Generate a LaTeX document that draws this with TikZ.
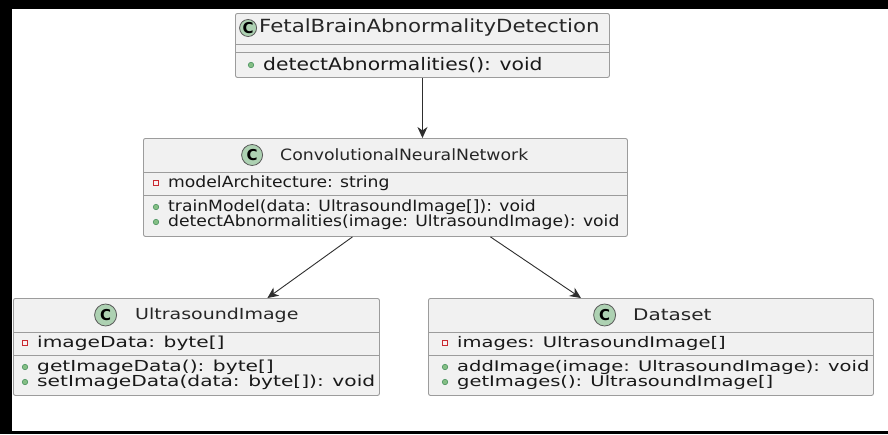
\documentclass[tikz,border=0pt]{standalone}
\usepackage{fontspec}
\setmainfont{DejaVu Sans}
\usetikzlibrary{positioning, arrows.meta}
\definecolor{UmlFill}{HTML}{F1F1F1}
\definecolor{UmlBorder}{HTML}{9C9C9C}
\definecolor{UmlCircle}{HTML}{ADD1B2}
\definecolor{UmlLine}{HTML}{2E2E2E}
\definecolor{PrivRed}{HTML}{C82930}
\definecolor{PrivFill}{HTML}{FBEFF1}
\definecolor{PubGreen}{HTML}{84BE84}
\definecolor{PubDark}{HTML}{3C8A55}

\tikzset{
  classbox/.style={draw=UmlBorder, fill=UmlFill, line width=0.9pt, rounded corners=2pt, inner sep=0pt},
  divider/.style={draw=UmlBorder, line width=0.9pt},
  classicon/.style={circle, draw=UmlLine!80, fill=UmlCircle, line width=0.8pt, inner sep=0pt,
    minimum size=#1, font=\bfseries\fontsize{15}{15}\selectfont},
  classname/.style={anchor=west, inner sep=0pt, text=black!85, font=\fontsize{#1}{#1}\selectfont},
  squash/.style={yscale=#1, transform shape},
  member/.style={anchor=west, inner sep=0pt, text=black!90, font=\fontsize{#1}{#1}\selectfont},
  pubdot/.style={circle, draw=PubDark, fill=PubGreen, line width=0.5pt, inner sep=0pt, minimum size=5.5pt},
  privsq/.style={rectangle, draw=PrivRed, fill=PrivFill, line width=0.6pt, inner sep=0pt, minimum size=5.5pt},
  pubmember/.style={member=#1, label={[pubdot, xshift=-9pt]left:{}}},
  privmember/.style={member=#1, label={[privsq, xshift=-9pt]left:{}}},
  umlarrow/.style={draw=UmlLine, line width=0.9pt, -{Stealth[length=11pt, width=10pt, inset=3.5pt]}}
}

\begin{document}
\begin{tikzpicture}[x=1pt, y=-1pt]
% page and frame
\useasboundingbox (0,0) rectangle (888,434);
\fill[white] (0,0) rectangle (888,434);
\fill[black] (0,0) rectangle (888,9);
\fill[black] (0,0) rectangle (12,434);
\fill[black] (0,431) rectangle (888,434);

% FetalBrainAbnormalityDetection
\node[classbox, minimum width=374pt, minimum height=64pt, anchor=north west] (fetal) at (235,13) {};
\draw[divider] (fetal.west |- 0,44) -- (fetal.east |- 0,44);
\draw[divider] (fetal.west |- 0,52) -- (fetal.east |- 0,52);
\node[classname=21.3, squash=0.85] (fetalname) at (259,28) {FetalBrainAbnormalityDetection};
\node[classicon=17pt, left=2pt of fetalname] (fetalicon) {C};
\node[pubmember=20.3, squash=0.85] (fetalm1) at (263,65) {detectAbnormalities(): void};

% ConvolutionalNeuralNetwork
\node[classbox, minimum width=484pt, minimum height=98pt, anchor=north west] (cnn) at (143,138) {};
\draw[divider] (cnn.west |- 0,172) -- (cnn.east |- 0,172);
\draw[divider] (cnn.west |- 0,195) -- (cnn.east |- 0,195);
\node[classname=17.3, squash=0.9] (cnnname) at (280,155) {ConvolutionalNeuralNetwork};
\node[classicon=21pt, left=17pt of cnnname] (cnnicon) {C};
\node[privmember=17.2, squash=0.9] (cnna1) at (168,183) {modelArchitecture: string};
\node[pubmember=17.2, squash=0.9] (cnnm1) at (168,207) {trainModel(data: UltrasoundImage[]): void};
\node[pubmember=17.2, squash=0.9] (cnnm2) at (168,222) {detectAbnormalities(image: UltrasoundImage): void};

% UltrasoundImage
\node[classbox, minimum width=366pt, minimum height=97pt, anchor=north west] (ultra) at (13,298) {};
\draw[divider] (ultra.west |- 0,332) -- (ultra.east |- 0,332);
\draw[divider] (ultra.west |- 0,355) -- (ultra.east |- 0,355);
\node[classname=19, squash=0.8] (ultraname) at (135,315) {UltrasoundImage};
\node[classicon=22pt, left=18pt of ultraname] (ultraicon) {C};
\node[privmember=20.2, squash=0.75] (ultraa1) at (37,343) {imageData: byte[]};
\node[pubmember=20.2, squash=0.75] (ultram1) at (37,367) {getImageData(): byte[]};
\node[pubmember=20.2, squash=0.75] (ultram2) at (37,382) {setImageData(data: byte[]): void};

% Dataset
\node[classbox, minimum width=445pt, minimum height=97pt, anchor=north west] (data) at (428,298) {};
\draw[divider] (data.west |- 0,332) -- (data.east |- 0,332);
\draw[divider] (data.west |- 0,355) -- (data.east |- 0,355);
\node[classname=20, squash=0.8] (dataname) at (633,315) {Dataset};
\node[classicon=22pt, left=17pt of dataname] (dataicon) {C};
\node[privmember=19.5, squash=0.75] (dataa1) at (457,343) {images: UltrasoundImage[]};
\node[pubmember=19.5, squash=0.75] (datam1) at (457,367) {addImage(image: UltrasoundImage): void};
\node[pubmember=19.5, squash=0.75] (datam2) at (457,382) {getImages(): UltrasoundImage[]};

% Associations
\draw[umlarrow] (fetal.south) -- (fetal.south |- cnn.north);
\draw[umlarrow] ([xshift=-33pt]cnn.south) -- ([xshift=71pt]ultra.north);
\draw[umlarrow] ([xshift=105pt]cnn.south) -- ([xshift=-70pt]data.north);
\end{tikzpicture}
\end{document}
